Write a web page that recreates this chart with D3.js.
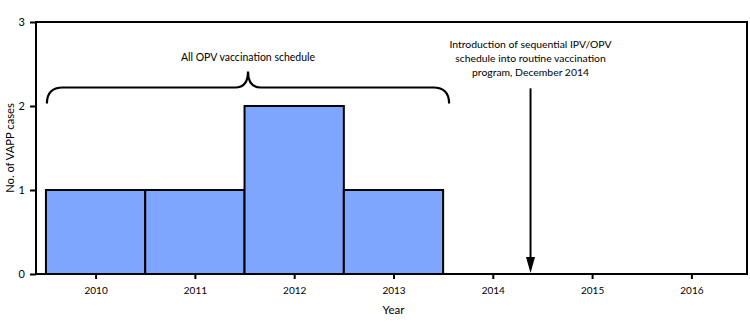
<!DOCTYPE html>
<html>
<head>
<meta charset="utf-8">
<script src="https://cdn.jsdelivr.net/npm/d3@7"></script>
<style>
  body { margin: 0; background: #fff; }
  text { font-family: Lato, "Open Sans", sans-serif; fill: #000; }
</style>
</head>
<body>
<svg id="chart" width="750" height="330"></svg>
<script>
// VAPP cases by year
const years = [2010, 2011, 2012, 2013, 2014, 2015, 2016];
const cases = [1, 1, 2, 1, 0, 0, 0];
const yTicks = [0, 1, 2, 3];

// Annotations
const bracketLabel = "All OPV vaccination schedule";
const bracketSpan = [2009.51, 2013.56];   // years covered by the brace
const bracketLevels = [2.03, 2.22, 2.41];  // brace ends, bar, tip (case units)
const arrowYear = 2014.38;
const arrowTop = 2.21;
const arrowLabel = ["Introduction of sequential IPV/OPV",
                    "schedule into routine vaccination",
                    "program, December 2014"];

const svg = d3.select("#chart");
const plotL = 36, plotR = 747, plotT = 22, plotB = 274;
const font = "Lato, \"Open Sans\", sans-serif";

const x = d3.scaleLinear().domain([2009.4, 2016.56]).range([plotL, plotR]);
const y = d3.scaleLinear().domain([0, 3]).range([plotB, plotT]);

// bars: one year wide each
svg.append("g").selectAll("rect")
  .data(years.map((yr, i) => ({ yr, v: cases[i] })).filter(d => d.v > 0))
  .join("rect")
  .attr("x", d => x(d.yr - 0.5))
  .attr("width", d => x(d.yr + 0.5) - x(d.yr - 0.5))
  .attr("y", d => y(d.v))
  .attr("height", d => y(0) - y(d.v))
  .attr("fill", "#7fa6ff")
  .attr("stroke", "#000")
  .attr("stroke-width", 2);

// plot frame
svg.append("rect")
  .attr("x", plotL).attr("y", plotT)
  .attr("width", plotR - plotL).attr("height", plotB - plotT)
  .attr("fill", "none").attr("stroke", "#000").attr("stroke-width", 2);

// y axis
const yAxis = svg.append("g")
  .attr("transform", `translate(${plotL},0)`)
  .call(d3.axisLeft(y).tickValues(yTicks).tickFormat(d3.format("d")).tickSize(6).tickPadding(5));
yAxis.select(".domain").remove();
yAxis.selectAll("line").attr("stroke", "#000").attr("stroke-width", 2);
yAxis.selectAll("text").attr("font-size", 11).style("font-family", font);

// x axis
const xAxis = svg.append("g")
  .attr("transform", `translate(0,${plotB})`)
  .call(d3.axisBottom(x).tickValues(years).tickFormat(d3.format("d")).tickSize(5).tickPadding(8));
xAxis.select(".domain").remove();
xAxis.selectAll("line").attr("stroke", "#000").attr("stroke-width", 2);
xAxis.selectAll("text").attr("font-size", 10).style("font-family", font);

// axis titles
svg.append("text")
  .attr("transform", `translate(11,${(plotT + plotB) / 2}) rotate(-90)`)
  .attr("text-anchor", "middle").attr("dominant-baseline", "middle")
  .attr("font-size", 11.2).text("No. of VAPP cases");
svg.append("text")
  .attr("x", x(2013)).attr("y", 314)
  .attr("text-anchor", "middle").attr("font-size", 11.5).text("Year");

// curly brace over the OPV period
const bx0 = x(bracketSpan[0]), bx1 = x(bracketSpan[1]);
const bm = (bx0 + bx1) / 2;
const yEnd = y(bracketLevels[0]), yBar = y(bracketLevels[1]), yTip = y(bracketLevels[2]);
const r = yEnd - yBar, rt = yBar - yTip;
const brace = d3.path();
brace.moveTo(bx0, yEnd);
brace.quadraticCurveTo(bx0, yBar, bx0 + r, yBar);
brace.lineTo(bm - rt * 0.8, yBar);
brace.quadraticCurveTo(bm, yBar, bm, yTip);
brace.quadraticCurveTo(bm, yBar, bm + rt * 0.8, yBar);
brace.lineTo(bx1 - r, yBar);
brace.quadraticCurveTo(bx1, yBar, bx1, yEnd);
svg.append("path").attr("d", brace.toString())
  .attr("fill", "none").attr("stroke", "#000").attr("stroke-width", 2.2);
svg.append("text")
  .attr("x", bm).attr("y", 61)
  .attr("text-anchor", "middle").attr("font-size", 10.5).text(bracketLabel);

// arrow marking the schedule change
const ax = x(arrowYear);
svg.append("line")
  .attr("x1", ax).attr("x2", ax)
  .attr("y1", y(arrowTop)).attr("y2", y(0) - 12)
  .attr("stroke", "#000").attr("stroke-width", 2);
svg.append("path")
  .attr("d", `M${ax - 4.5},${y(0) - 17}L${ax + 4.5},${y(0) - 17}L${ax},${y(0) - 1}Z`)
  .attr("fill", "#000");
svg.append("text")
  .attr("text-anchor", "middle").attr("font-size", 10.4)
  .selectAll("tspan").data(arrowLabel).join("tspan")
  .attr("x", ax).attr("y", (d, i) => 48 + i * 14).text(d => d);
</script>
</body>
</html>
